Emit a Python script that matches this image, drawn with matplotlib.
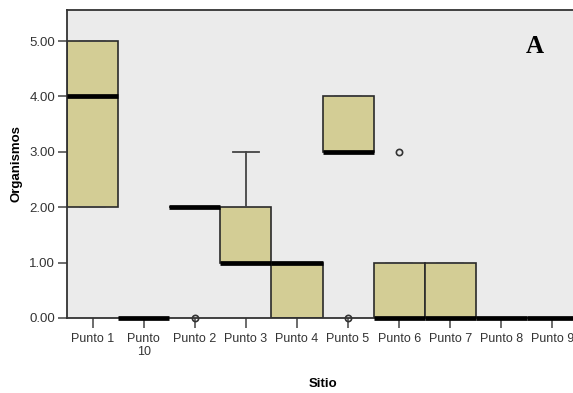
import matplotlib
matplotlib.use('Agg')
import matplotlib.pyplot as plt

# Data
sitios = ['Punto 1', 'Punto\n10', 'Punto 2', 'Punto 3', 'Punto 4',
          'Punto 5', 'Punto 6', 'Punto 7', 'Punto 8', 'Punto 9']
q1 = [2, 0, 2, 1, 0, 3, 0, 0, 0, 0]
mediana = [4, 0, 2, 1, 1, 3, 0, 0, 0, 0]
q3 = [5, 0, 2, 2, 1, 4, 1, 1, 0, 0]
bigote_inf = [2, 0, 2, 1, 0, 3, 0, 0, 0, 0]
bigote_sup = [5, 0, 2, 3, 1, 4, 1, 1, 0, 0]
atipicos = [[], [], [0], [], [], [0], [3], [], [], []]

stats = []
for i in range(len(sitios)):
    stats.append({'q1': q1[i], 'med': mediana[i], 'q3': q3[i],
                  'whislo': bigote_inf[i], 'whishi': bigote_sup[i],
                  'fliers': atipicos[i], 'label': sitios[i]})

plt.rcParams['font.family'] = ['Liberation Sans', 'DejaVu Sans']

fig = plt.figure(figsize=(5.73, 3.93), dpi=100)
ax = fig.add_axes([67 / 573, 75 / 393, 511 / 573, 308 / 393])
ax.set_facecolor('#ebebeb')

ax.bxp(stats, positions=range(len(sitios)), widths=1.0, patch_artist=True,
       capwidths=0.5,
       boxprops=dict(facecolor='#d3cd95', edgecolor='#2a2a2a', linewidth=1.2),
       medianprops=dict(color='black', linewidth=3.4, solid_capstyle='butt',
                        clip_on=False, zorder=4),
       whiskerprops=dict(color='#444444', linewidth=1.3),
       capprops=dict(color='#444444', linewidth=1.3),
       flierprops=dict(marker='o', markersize=4.5, markerfacecolor='none',
                       markeredgecolor='#333333', markeredgewidth=1.2,
                       clip_on=False, zorder=4))

ax.set_xlim(-0.5, 9.5)
ax.set_ylim(0, 5.56)
ax.set_yticks([0, 1, 2, 3, 4, 5])
ax.set_yticklabels(['0.00', '1.00', '2.00', '3.00', '4.00', '5.00'])
ax.set_xticks(range(len(sitios)))
ax.set_xticklabels(sitios)

for s in ['left', 'bottom', 'top', 'right']:
    ax.spines[s].set_color('#333333')
    ax.spines[s].set_linewidth(1.3)

ax.tick_params(axis='x', direction='out', length=7.5, width=1.1, color='#444444',
               labelsize=9, labelcolor='#333333', pad=3)
ax.tick_params(axis='y', direction='out', length=6.5, width=1.1, color='#444444',
               labelsize=9.5, labelcolor='#333333', pad=2)

ax.set_xlabel('Sitio', fontsize=9.5, fontweight='bold', labelpad=14)
ax.set_ylabel('Organismos', fontsize=9.5, fontweight='bold', labelpad=5)

ax.text(0.916, 0.88, 'A', transform=ax.transAxes, fontsize=18, fontweight='bold',
        family=['Liberation Serif', 'DejaVu Serif'], ha='center', va='center')

fig.savefig('out.png', dpi=100)
